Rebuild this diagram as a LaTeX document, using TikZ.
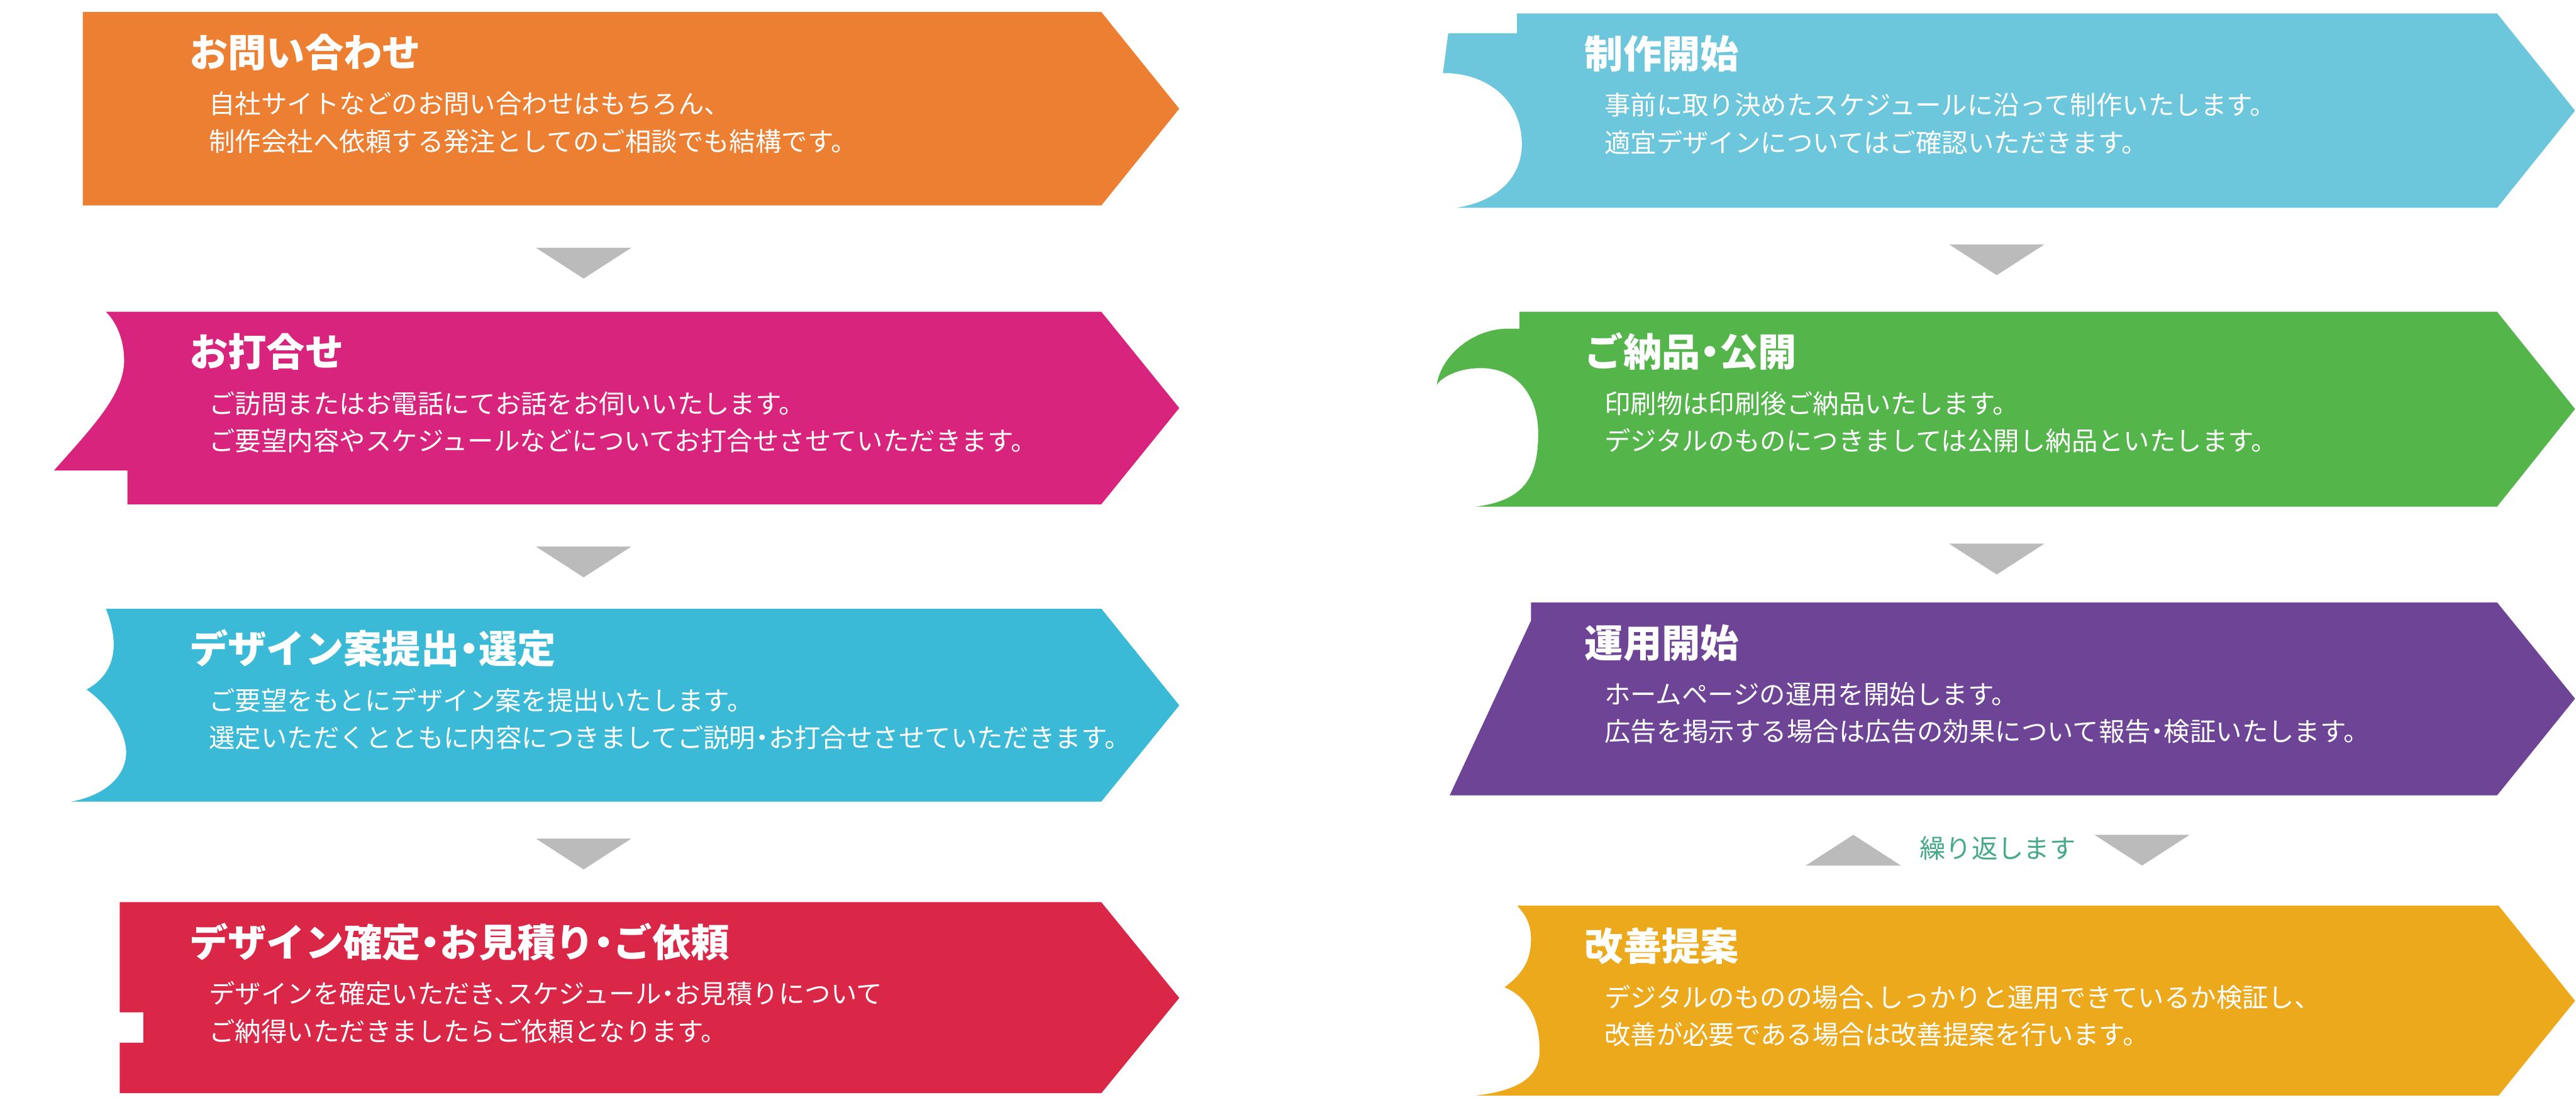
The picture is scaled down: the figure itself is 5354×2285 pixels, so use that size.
\documentclass[tikz,border=0pt]{standalone}
\usepackage{fontspec}
\setmainfont{Noto Sans CJK JP}[RawFeature=+halt]
\definecolor{inquiry}{RGB}{237,127,50}
\definecolor{meeting}{RGB}{216,36,124}
\definecolor{proposal}{RGB}{59,186,216}
\definecolor{order}{RGB}{218,38,71}
\definecolor{build}{RGB}{108,198,220}
\definecolor{deliver}{RGB}{83,181,74}
\definecolor{operate}{RGB}{110,68,150}
\definecolor{improve}{RGB}{237,169,28}
\definecolor{pointergray}{RGB}{187,187,187}
\definecolor{againgreen}{RGB}{71,168,138}
\tikzset{
  head/.style={font=\fontsize{22.8pt}{26pt}\selectfont\bfseries, text=white, anchor=base west, inner sep=0pt},
  copy/.style={font=\fontsize{15.4pt}{18pt}\selectfont, text=white, anchor=base west, inner sep=0pt},
  pointer/.style={fill=pointergray},
  again/.style={font=\fontsize{15.4pt}{18pt}\selectfont, text=againgreen, inner sep=0pt},
}

\begin{document}
\begin{tikzpicture}[x=0.01cm, y=-0.01cm]
  \useasboundingbox (0,0) rectangle (5354,2285);
  % left column
  \fill[inquiry] (172,25) -- (2289,25) -- (2451,226) -- (2289,427) -- (172,427) -- cycle;
  \fill[meeting] (220,648) -- (2289,648) -- (2451,848) -- (2289,1048) -- (265,1048) -- (265,978) -- (112,978)
    .. controls (190,890) and (258,820) .. (258,750) .. controls (258,700) and (238,665) .. (220,648) -- cycle;
  \fill[proposal] (220,1265) -- (2289,1265) -- (2451,1466) -- (2289,1666) -- (148,1666)
    .. controls (210,1655) and (258,1620) .. (262,1570) .. controls (265,1540) and (245,1480) .. (180,1433)
    .. controls (240,1400) and (250,1340) .. (220,1265) -- cycle;
  \fill[order] (249,1875) -- (2289,1875) -- (2451,2074) -- (2289,2272) -- (249,2272) -- (249,2167) -- (298,2167)
    -- (298,2104) -- (249,2104) -- cycle;
  % right column
  \fill[build] (3153,28) -- (5190,28) -- (5352,230) -- (5190,432) -- (3025,432)
    .. controls (3110,420) and (3163,370) .. (3163,300) .. controls (3163,200) and (3080,150) .. (2999,152)
    -- (3010,69) -- (3153,69) -- cycle;
  \fill[deliver] (3158,648) -- (5190,648) -- (5352,850) -- (5190,1053) -- (3067,1053)
    .. controls (3170,1040) and (3197,990) .. (3197,900) .. controls (3197,830) and (3160,765) .. (3077,765)
    .. controls (3030,765) and (2995,785) .. (2986,800) .. controls (2995,740) and (3060,683) .. (3135,683)
    -- (3158,683) -- cycle;
  \fill[operate] (3182,1252) -- (5190,1252) -- (5352,1452) -- (5190,1653) -- (3013,1653) -- (3182,1290) -- cycle;
  \fill[improve] (3153,1882) -- (5193,1882) -- (5352,2080) -- (5193,2277) -- (3067,2277)
    .. controls (3170,2265) and (3200,2230) .. (3200,2183) .. controls (3200,2110) and (3170,2070) .. (3127,2052)
    .. controls (3170,2020) and (3182,1990) .. (3182,1951) .. controls (3182,1920) and (3170,1900) .. (3153,1882) -- cycle;
  % texts
  \foreach \n/\x/\y/\ttl/\la/\lb in {
    1/393/25/お問い合わせ/自社サイトなどのお問い合わせはもちろん、/制作会社へ依頼する発注としてのご相談でも結構です。,
    2/393/648/お打合せ/ご訪問またはお電話にてお話をお伺いいたします。/ご要望内容やスケジュールなどについてお打合せさせていただきます。,
    3/393/1265/デザイン案提出・選定/ご要望をもとにデザイン案を提出いたします。/選定いただくとともに内容につきましてご説明・お打合せさせていただきます。,
    4/393/1875/デザイン確定・お見積り・ご依頼/デザインを確定いただき、スケジュール・お見積りについて/ご納得いただきましたらご依頼となります。,
    5/3293/28/制作開始/事前に取り決めたスケジュールに沿って制作いたします。/適宜デザインについてはご確認いただきます。,
    6/3293/648/ご納品・公開/印刷物は印刷後ご納品いたします。/デジタルのものにつきましては公開し納品といたします。,
    7/3293/1252/運用開始/ホームページの運用を開始します。/広告を掲示する場合は広告の効果について報告・検証いたします。,
    8/3293/1882/改善提案/デジタルのものの場合、しっかりと運用できているか検証し、/改善が必要である場合は改善提案を行います。} {
    \node[head] (head\n) at (\x,{\y+114}) {\ttl};
    \node[copy] (first\n) at ({\x+41},{\y+211}) {\la};
    \node[copy] (second\n) at ({\x+41},{\y+289}) {\lb};
  }
  % pointers
  \foreach \x/\y in {1213/515,1213/1136,1213/1743,4150/508,4150/1130}
    \fill[pointer] ({\x-99},\y) -- ({\x+99},\y) -- (\x,{\y+64}) -- cycle;
  \node[again, anchor=base] (again) at (4152,1783) {繰り返します};
  \fill[pointer] (3753,1799) -- (3951,1799) -- (3852,1735) -- cycle;
  \fill[pointer] (4353,1735) -- (4551,1735) -- (4452,1799) -- cycle;
\end{tikzpicture}
\end{document}
